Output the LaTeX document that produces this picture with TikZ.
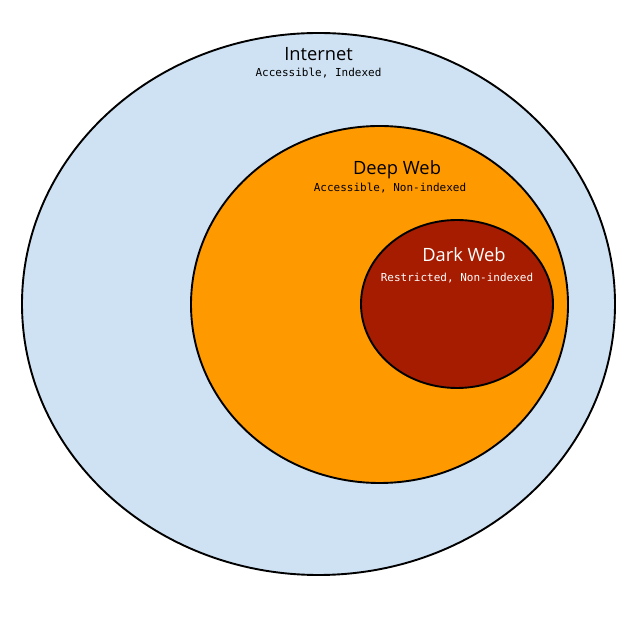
\documentclass[tikz,border=0pt]{standalone}
\usepackage{fontspec}
\setmainfont{Open Sans}
\newfontfamily\monof{DejaVu Sans Mono}
\begin{document}
\begin{tikzpicture}[x=1pt,y=1pt,
  ring/.style={draw=black,line width=1.9pt},
  ttl/.style={font=\fontsize{18.3}{21}\selectfont,inner sep=0pt,anchor=base},
  sub/.style={font=\monof\fontsize{11}{12}\selectfont,inner sep=0pt,anchor=base}]
\useasboundingbox (0,0) rectangle (637,618);
\fill[white] (0,0) rectangle (637,618);
\definecolor{netblue}{HTML}{CFE2F3}
\definecolor{deeporange}{HTML}{FF9900}
\definecolor{darkred}{HTML}{A61C00}
\draw[ring,fill=netblue] (318.5,314) ellipse [x radius=296.5, y radius=271];
\draw[ring,fill=deeporange] (379.5,313.5) ellipse [x radius=188.5, y radius=178.5];
\draw[ring,fill=darkred] (457,314) ellipse [x radius=96, y radius=84];
\node[ttl] (inet) at (318.5,557.5) {Internet};
\node[sub] (inets) at (318.5,541) {Accessible, Indexed};
\node[ttl] (deep) at (397,443.5) {Deep Web};
\node[sub] (deeps) at (390,426) {Accessible, Non-indexed};
\node[ttl,text=white] (dark) at (464,356) {Dark Web};
\node[sub,text=white] (darks) at (457,336.5) {Restricted, Non-indexed};
\end{tikzpicture}
\end{document}
